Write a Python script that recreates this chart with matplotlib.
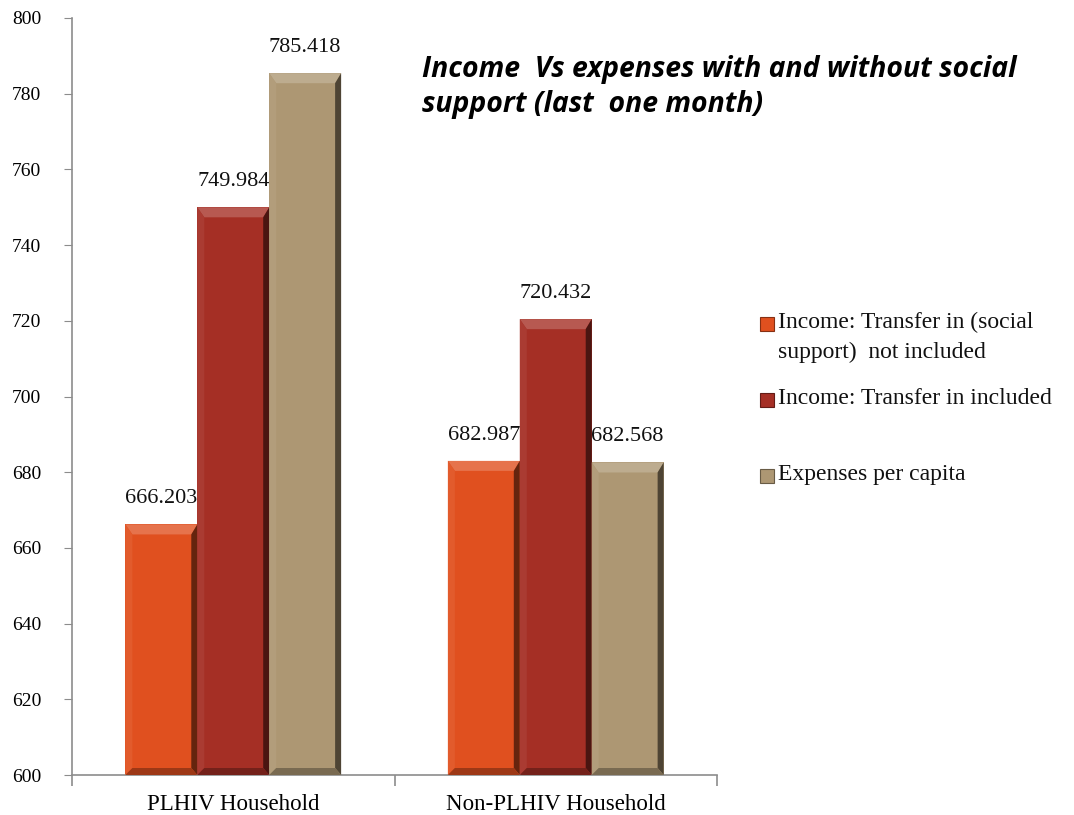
import matplotlib
matplotlib.use("Agg")
import matplotlib.pyplot as plt
from matplotlib.patches import Polygon, Rectangle
from matplotlib.colors import to_rgb
import numpy as np

categories = ["PLHIV Household", "Non-PLHIV Household"]
series_names = [
    "Income: Transfer in (social\nsupport)  not included",
    "Income: Transfer in included",
    "Expenses per capita",
]
income_without_support = [666.203, 682.987]
income_with_support = [749.984, 720.432]
expenses_per_capita = [785.418, 682.568]
series_values = [income_without_support, income_with_support, expenses_per_capita]
series_colors = ["#E0501F", "#A52F25", "#AD9773"]
y_ticks = [600, 620, 640, 660, 680, 700, 720, 740, 760, 780, 800]

SERIF = ["Liberation Serif", "DejaVu Serif"]


def shade(color, f):
    r, g, b = to_rgb(color)
    if f >= 0:
        return (r + (1 - r) * f, g + (1 - g) * f, b + (1 - b) * f)
    return (r * (1 + f), g * (1 + f), b * (1 + f))


fig = plt.figure(figsize=(10.74, 8.15), dpi=100)
ax = fig.add_axes([72 / 1074, 40 / 815, 645 / 1074, 757 / 815])

x = np.arange(len(categories))
width = 0.223
offsets = [-width, 0, width]

ax.set_xlim(-0.5, 1.5)
ax.set_ylim(600, 800)

bar_groups = []
for vals, off, col in zip(series_values, offsets, series_colors):
    bars = ax.bar(x + off, np.array(vals) - 600, width=width, bottom=600,
                  color=col, edgecolor="none", zorder=2)
    bar_groups.append((bars, col, vals))

# bevelled edges drawn in pixel units on top of each bar
fig.canvas.draw()
bev_top, bev_side, bev_right = 10, 7, 6
for bars, col, vals in bar_groups:
    for rect in bars:
        x0, y0 = ax.transData.transform((rect.get_x(), rect.get_y()))
        x1, y1 = ax.transData.transform((rect.get_x() + rect.get_width(),
                                         rect.get_y() + rect.get_height()))
        polys = [
            ([(x0, y1), (x1, y1), (x1 - bev_right, y1 - bev_top), (x0 + bev_side, y1 - bev_top)], shade(col, 0.2)),
            ([(x0, y1), (x0 + bev_side, y1 - bev_top), (x0 + bev_side, y0 + bev_side), (x0, y0)], shade(col, 0.06)),
            ([(x1, y1), (x1, y0), (x1 - bev_right, y0 + bev_side), (x1 - bev_right, y1 - bev_top)], shade(col, -0.55)),
            ([(x0, y0), (x1, y0), (x1 - bev_right, y0 + bev_side), (x0 + bev_side, y0 + bev_side)], shade(col, -0.3)),
        ]
        for pts, c in polys:
            ax.add_patch(Polygon(pts, closed=True, transform=None,
                                 facecolor=c, edgecolor="none", zorder=3))

# value labels
for bars, col, vals in bar_groups:
    for rect, v in zip(bars, vals):
        ax.text(rect.get_x() + rect.get_width() / 2, v + 4.3, f"{v:.3f}",
                ha="center", va="bottom", fontsize=16, family=SERIF,
                color="#111111", zorder=4)

# axes styling
for s in ["top", "right"]:
    ax.spines[s].set_visible(False)
for s in ["left", "bottom"]:
    ax.spines[s].set_color("#8c8c8c")
    ax.spines[s].set_linewidth(1.2)

ax.set_yticks(y_ticks)
ax.set_yticklabels([str(t) for t in y_ticks], family=SERIF, fontsize=14)
ax.tick_params(axis="y", direction="out", length=6, color="#8c8c8c", pad=16)

ax.set_xticks(x)
ax.set_xticklabels(categories, family=SERIF, fontsize=16.5)
ax.tick_params(axis="x", which="major", length=0, pad=14)
ax.set_xticks([-0.5, 0.5, 1.5], minor=True)
ax.tick_params(axis="x", which="minor", direction="out", length=8,
               color="#8c8c8c", width=1.2)

# title
fig.text(422 / 1074, 1 - 87 / 815,
         "Income  Vs expenses with and without social\nsupport (last  one month)",
         ha="left", va="center", fontsize=20.4, fontweight="bold",
         fontstyle="italic", family=["Open Sans", "DejaVu Sans"],
         linespacing=1.25)

# legend
legend_rows = [321, 397, 473]
for name, col, yp in zip(series_names, series_colors, legend_rows):
    yf = 1 - yp / 815
    fig.patches.append(Rectangle((760 / 1074, yf - 10 / 815), 14 / 1074, 14 / 815,
                                 transform=fig.transFigure, facecolor=col,
                                 edgecolor=shade(col, -0.4), linewidth=0.8))
    fig.text(778 / 1074, yf + 9 / 815, name, ha="left", va="top",
             fontsize=17, family=SERIF, color="#111111", linespacing=1.55)

fig.savefig("out.png", dpi=100)
